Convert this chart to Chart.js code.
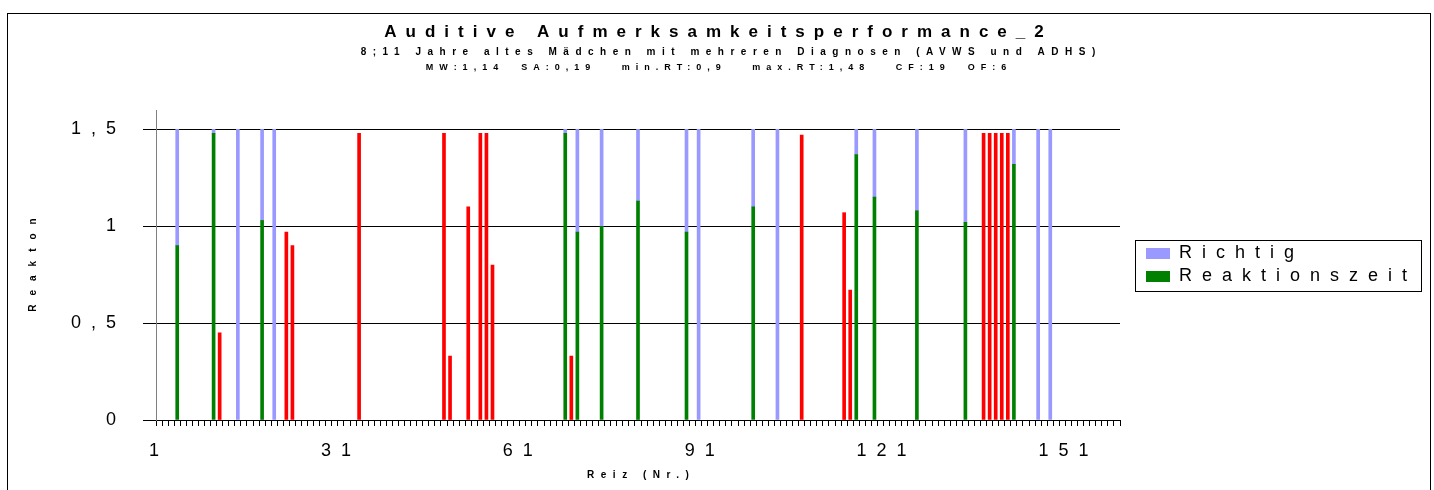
<!DOCTYPE html>
<html>
<head>
<meta charset="utf-8">
<title>Auditive Aufmerksamkeitsperformance_2</title>
<script src="https://cdn.jsdelivr.net/npm/chart.js@4.4.1/dist/chart.umd.min.js"></script>
<style>
  html, body { margin: 0; padding: 0; background: #fff; }
  #wrap { position: relative; width: 1434px; height: 490px; }
</style>
</head>
<body>
<div id="wrap"><canvas id="rtChart"></canvas></div>
<script>
// Reize (Nr.) 1..159
const stimulusCount = 159;
const stimuli = Array.from({ length: stimulusCount }, (_, i) => i + 1);
const xTickLabels = [1, 31, 61, 91, 121, 151];
const yTickValues = [0, 0.5, 1, 1.5];

// correct reactions and their reaction times
const hitTrials = [4, 10, 18, 68, 70, 74, 80, 88, 99, 116, 119, 126, 134, 142];
const hitTimes = [0.90, 1.48, 1.03, 1.48, 0.97, 1.00, 1.13, 0.97, 1.10, 1.37, 1.15, 1.08, 1.02, 1.32];

// false reactions (CF: 19), drawn red
const errorTrials = [11, 22, 23, 34, 48, 49, 52, 54, 55, 56, 69, 107, 114, 115, 137, 138, 139, 140, 141];
const errorTimes = [0.45, 0.97, 0.90, 1.48, 1.48, 0.33, 1.10, 1.48, 1.48, 0.80, 0.33, 1.47, 1.07, 0.67, 1.48, 1.48, 1.48, 1.48, 1.48];

// missed targets (OF: 6), only the blue bar
const missTrials = [14, 20, 90, 103, 146, 148];

const barTop = 1.5;

const FONT = '"Liberation Sans", Arial, sans-serif';
const GREEN = "#008000";
const RED = "#ff0000";
const BLUE = "#9999ff";
const SPACING = 10; // letter spacing of ticks + legend

// build per-stimulus series
const rtData = stimuli.map(() => null);
const rtColors = stimuli.map(() => GREEN);
const richtigData = stimuli.map(() => null);

hitTrials.forEach((t, k) => {
  rtData[t - 1] = hitTimes[k];
  richtigData[t - 1] = +(barTop - hitTimes[k]).toFixed(2);
});
errorTrials.forEach((t, k) => {
  rtData[t - 1] = errorTimes[k];
  rtColors[t - 1] = RED;
});
missTrials.forEach((t) => {
  richtigData[t - 1] = barTop;
});

function spacedText(ctx, text, x, y, font, spacing, rotate) {
  ctx.save();
  ctx.font = font;
  ctx.letterSpacing = spacing + "px";
  ctx.fillStyle = "#000";
  ctx.textAlign = "center";
  ctx.textBaseline = "middle";
  ctx.translate(x, y);
  if (rotate) ctx.rotate(-Math.PI / 2);
  ctx.fillText(text, spacing / 2, 0);
  ctx.restore();
}

// Excel-like wide letter spacing + frame, titles, legend border
const excelLook = {
  id: "excelLook",
  beforeUpdate(chart) {
    chart.ctx.letterSpacing = SPACING + "px";
  },
  afterLayout(chart) {
    // let the spaced legend text run past the measured box (no clipping)
    const lg = chart.legend;
    lg.right = chart.width - 3;
    lg.width = lg.right - lg.left;
  },
  beforeDraw(chart) {
    chart.ctx.letterSpacing = SPACING + "px";
  },
  afterDraw(chart) {
    const ctx = chart.ctx;
    const area = chart.chartArea;

    spacedText(ctx, "Auditive Aufmerksamkeitsperformance_2", 714, 32, "bold 17px " + FONT, 9);
    spacedText(ctx, "8;11 Jahre altes Mädchen mit mehreren Diagnosen (AVWS und ADHS)", 728, 52, "bold 10px " + FONT, 6.5);
    spacedText(ctx, "MW:1,14  SA:0,19   min.RT:0,9   max.RT:1,48   CF:19  OF:6", 716, 68, "bold 9px " + FONT, 6);

    spacedText(ctx, "Reiz (Nr.)", (area.left + area.right) / 2, 475, "bold 10px " + FONT, 6.5);
    spacedText(ctx, "Reakton", 33, (area.top + area.bottom) / 2, "bold 10px " + FONT, 9, true);

    ctx.save();
    ctx.strokeStyle = "#000";
    ctx.lineWidth = 1;
    // legend border around the drawn items
    const legend = chart.legend;
    const boxes = legend.legendHitBoxes;
    if (boxes && boxes.length) {
      ctx.font = "18px " + FONT;
      ctx.letterSpacing = "0px";
      const textW = Math.max(
        ...legend.legendItems.map((it) => ctx.measureText(it.text).width + SPACING * (it.text.length - 1))
      );
      const first = boxes[0];
      const last = boxes[boxes.length - 1];
      const l = Math.round(first.left - 11) + 0.5;
      const r = Math.round(first.left + 24 + 9 + textW + 14) + 0.5;
      const t = Math.round(first.top - 4.5) + 0.5;
      const b = Math.round(last.top + last.height + 5.5) + 0.5;
      ctx.strokeRect(l, t, r - l, b - t);
    }
    // outer frame
    ctx.strokeRect(7.5, 13.5, 1423, 500);
    ctx.restore();
  },
};

const ctx = document.getElementById("rtChart").getContext("2d");

new Chart(ctx, {
  type: "bar",
  data: {
    labels: stimuli,
    datasets: [
      {
        label: "Reaktionszeit",
        data: rtData,
        backgroundColor: (c) => (c.type === "data" ? rtColors[c.dataIndex] : GREEN),
        borderWidth: 0,
        barThickness: 3,
      },
      {
        label: "Richtig",
        data: richtigData,
        backgroundColor: BLUE,
        borderWidth: 0,
        barThickness: 3,
      },
    ],
  },
  options: {
    responsive: true,
    maintainAspectRatio: false,
    animation: false,
    layout: { padding: { left: 10, right: 93, top: 110, bottom: 30 } },
    plugins: {
      title: { display: false },
      tooltip: { enabled: false },
      legend: {
        position: "right",
        fullSize: false,
        reverse: true,
        align: "center",
        maxWidth: 200,
        labels: {
          boxWidth: 24,
          boxHeight: 11,
          padding: 5,
          color: "#000",
          font: { family: FONT, size: 18 },
        },
      },
    },
    scales: {
      x: {
        stacked: true,
        offset: true,
        grid: { offset: true, drawOnChartArea: false, tickLength: 6, color: "#000" },
        border: { color: "#000" },
        ticks: {
          autoSkip: false,
          maxRotation: 0,
          padding: 14,
          color: "#000",
          font: { family: FONT, size: 18 },
          callback: function (value, index) {
            const n = stimuli[index];
            return xTickLabels.includes(n) ? String(n) : "";
          },
        },
        afterFit: (scale) => {
          scale.height = 40;
        },
      },
      y: {
        stacked: true,
        min: 0,
        max: 1.6,
        grid: { color: "#000", tickLength: 13 },
        border: { color: "#808080" },
        ticks: {
          padding: 17,
          color: "#000",
          font: { family: FONT, size: 18 },
          callback: (v) => String(v).replace(".", ","),
        },
        afterBuildTicks: (scale) => {
          scale.ticks = yTickValues.map((v) => ({ value: v }));
        },
        afterFit: (scale) => {
          scale.width = 146;
        },
      },
      // empty gap between plot and legend
      gap: {
        type: "linear",
        axis: "y",
        position: "right",
        grid: { display: false },
        border: { display: false },
        ticks: { display: false },
        afterFit: (scale) => {
          scale.width = 21;
        },
      },
    },
  },
  plugins: [excelLook],
});
</script>
</body>
</html>
